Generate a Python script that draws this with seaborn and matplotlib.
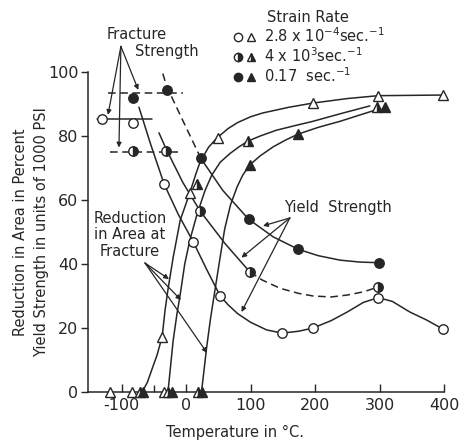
import matplotlib
matplotlib.use("Agg")
import matplotlib.pyplot as plt
import seaborn as sns
from matplotlib.lines import Line2D
from matplotlib.legend_handler import HandlerTuple

# ---------------- data ----------------
# Reduction in area curves (descending)
ra_open_T = [-73, -55, -34, -12, 11, 32, 53, 65, 80, 100, 125, 149, 175, 197, 225, 250, 275, 298, 320, 347, 373, 398]
ra_open_V = [89, 77.5, 65, 55.5, 47, 38.3, 30, 27.3, 24.5, 21.8, 19.4, 18.4, 19.0, 20, 22.3, 25, 28, 29.5, 28.3, 25, 22.5, 19.7]

ra_half_T = [-42, -31, -5, 22, 60, 99]
ra_half_V = [81, 76, 65.5, 56.5, 46.5, 37.5]
ra_half_dash_T = [99, 118, 146, 175, 197, 225, 250, 275, 298]
ra_half_dash_V = [37.5, 35, 32.4, 30.8, 30.0, 29.7, 30.3, 31.3, 32.8]

ra_fill_dash_T = [-36, -30, -3, 23]
ra_fill_dash_V = [99.5, 95.5, 84, 73]
ra_fill_T = [23, 57, 97, 135, 174, 205, 239, 270, 299]
ra_fill_V = [73, 63, 54, 48.5, 44.6, 42.6, 41.2, 40.6, 40.4]

# Yield strength curves (ascending)
ys_open_T = [-68, -60, -53, -45, -37, -32.5, -28, -20, -9, 6, 15, 22, 35, 48, 65, 80, 100, 119, 160, 197, 250, 298, 398]
ys_open_V = [0, 3, 7, 11.5, 17.3, 25.6, 32, 42, 53.7, 62.3, 68, 72, 76.5, 79.4, 82.3, 84.2, 86, 87.2, 89, 90.3, 91.7, 92.6, 92.8]

ys_half_T = [-28, -24, -20, -14, -9, -2, 6, 17, 29.5, 40, 53, 68, 82, 96, 115, 140, 170, 197, 240, 285]
ys_half_V = [0, 8, 16, 24.5, 30.5, 40, 47.5, 55.5, 63, 67.8, 71.8, 74.5, 76.6, 78.4, 80, 81.8, 83.3, 84.6, 87, 89.4]

ys_fill_T = [24, 28, 32, 38, 45, 52, 60, 69, 79, 88, 99, 115, 135, 155, 174, 205, 239, 270, 300]
ys_fill_V = [0, 7, 14, 23, 32, 41, 51, 58.5, 64, 67.8, 71, 73.8, 76.6, 78.8, 80.6, 82.7, 84.6, 86.6, 88.5]

# Fracture strength horizontal lines
fs_open_T, fs_open_V = [-138, -53], [85.2, 85.2]
fs_half_T, fs_half_V = [-118, -12], [75.1, 75.1]
fs_fill_T, fs_fill_V = [-121, -4.5], [93.5, 93.5]

# Markers
circ_open_T = [-130, -82, -34, 11, 53, 149, 197, 298, 398]
circ_open_V = [85.3, 84, 65, 47, 30, 18.4, 20, 29.5, 19.7]
circ_half_T = [-82, -31, 22, 99, 298]
circ_half_V = [75.3, 75.3, 56.5, 37.5, 32.8]
circ_fill_T = [-82, -30, 23, 97, 174, 299]
circ_fill_V = [92, 94.5, 73, 54, 44.6, 40.4]
tri_open_T = [-118, -84, -34, -37, 6, 49, 197, 298, 398]
tri_open_V = [0, 0, 0, 17.3, 62.3, 79.4, 90.3, 92.6, 92.8]
tri_half_T = [-71, -28, 19, 17, 96, 296]
tri_half_V = [0, 0, 0, 65, 78.4, 89]
tri_fill_T = [-66, -22, 24, 99, 174, 308]
tri_fill_V = [0, 0, 0, 71, 80.6, 89]

legend_labels = [r"2.8 x 10$^{-4}$sec.$^{-1}$", r"4 x 10$^{3}$sec.$^{-1}$", r"0.17  sec.$^{-1}$"]

x_ticks = [-100, 0, 100, 200, 300, 400]
y_ticks = [0, 20, 40, 60, 80, 100]

# ---------------- drawing ----------------
sns.set_theme(style="ticks")
plt.rcParams["font.family"] = ["DejaVu Sans"]
plt.rcParams["axes.unicode_minus"] = False

INK = "#262626"
LW = 1.1
DASH = (0, (5, 3))

fig = plt.figure(figsize=(4.6, 4.41), dpi=100)
fig.patch.set_facecolor("white")
ax = fig.add_axes([88 / 460, 49 / 441, 356 / 460, 320 / 441])
ax.set_facecolor("white")


def curve(T, V, ls="-"):
    sns.lineplot(x=T, y=V, sort=False, estimator=None, color=INK, lw=LW,
                 linestyle=ls, ax=ax, legend=False)


curve(ra_open_T, ra_open_V)
curve(ra_half_T, ra_half_V)
curve(ra_half_dash_T, ra_half_dash_V, DASH)
curve(ra_fill_dash_T, ra_fill_dash_V, DASH)
curve(ra_fill_T, ra_fill_V)
curve(ys_open_T, ys_open_V)
curve(ys_half_T, ys_half_V)
curve(ys_fill_T, ys_fill_V)
curve(fs_open_T, fs_open_V)
curve(fs_half_T, fs_half_V, DASH)
curve(fs_fill_T, fs_fill_V, DASH)

CMS, TMS = 6.8, 6.8
mk_common = dict(linestyle="none", mec=INK, mew=1.0, clip_on=False, zorder=5)
ax.plot(circ_open_T, circ_open_V, marker="o", ms=CMS, mfc="white", **mk_common)
ax.plot(circ_half_T, circ_half_V, marker="o", ms=CMS, fillstyle="right",
        mfc=INK, markerfacecoloralt="white", **mk_common)
ax.plot(circ_fill_T, circ_fill_V, marker="o", ms=CMS, mfc=INK, **mk_common)
ax.plot(tri_open_T, tri_open_V, marker="^", ms=TMS, mfc="white", **mk_common)
ax.plot(tri_half_T, tri_half_V, marker="^", ms=TMS, fillstyle="right",
        mfc=INK, markerfacecoloralt="white", **mk_common)
ax.plot(tri_fill_T, tri_fill_V, marker="^", ms=TMS, mfc=INK, **mk_common)

ax.set_xlim(-152, 400)
ax.set_ylim(0, 100)
ax.set_xticks(x_ticks)
ax.set_xticks([-50], minor=True)
ax.set_yticks(y_ticks)
ax.tick_params(axis="x", direction="in", length=6, width=1.0, colors=INK,
               labelsize=11.5, pad=4)
ax.tick_params(axis="x", which="minor", direction="in", length=5, width=1.0, colors=INK)
ax.tick_params(axis="y", direction="out", length=5, width=1.0, colors=INK,
               labelsize=11.5, pad=2)
for s in ["top", "right"]:
    ax.spines[s].set_visible(False)
for s in ["left", "bottom"]:
    ax.spines[s].set_color(INK)
    ax.spines[s].set_linewidth(1.1)

ax.set_xlabel("Temperature in °C.", fontsize=10.5, color=INK)
ax.xaxis.set_label_coords(0.413, -0.102)
ax.set_ylabel("Reduction in Area in Percent\nYield Strength in units of 1000 PSI",
              fontsize=10.5, color=INK, linespacing=1.45, va="center")
ax.yaxis.set_label_coords(-0.16, 0.5)

# annotations
arrow_kw = dict(arrowstyle="-|>", lw=0.9, color=INK, mutation_scale=7,
                shrinkA=0, shrinkB=0)


def arrows(apex, targets):
    for t in targets:
        ax.annotate("", xy=t, xytext=apex, xycoords="data", textcoords="data",
                    arrowprops=arrow_kw, annotation_clip=False)


ax.text(-76, 111.6, "Fracture", ha="center", va="center", fontsize=10.5, color=INK)
ax.text(-29.5, 106.3, "Strength", ha="center", va="center", fontsize=10.5, color=INK)
arrows((-101, 108), [(-121, 86.6), (-104, 76.4), (-74, 94.4)])

ax.text(-87, 49.1, "Reduction\nin Area at\nFracture", ha="center", va="center",
        fontsize=10.5, color=INK, linespacing=1.1)
arrows((-63.6, 40.3), [(-26.4, 35.3), (-7.8, 28.75), (32.6, 12.2)])

ax.text(235, 57.8, "Yield  Strength", ha="center", va="center", fontsize=10.5, color=INK)
arrows((161, 54.4), [(119.4, 51.9), (86, 42), (86, 25)])

# legend (strain rate)
def mk(marker, fs="full", fc="white"):
    return Line2D([], [], linestyle="none", marker=marker, ms=6, mec=INK, mew=1.0,
                  fillstyle=fs, mfc=fc, markerfacecoloralt="white")


handles = [
    (mk("o"), mk("^")),
    (mk("o", "right", INK), mk("^", "right", INK)),
    (mk("o", "full", INK), mk("^", "full", INK)),
]
leg = ax.legend(handles, legend_labels, handler_map={tuple: HandlerTuple(ndivide=None, pad=0.0)},
                title="Strain Rate", frameon=False, fontsize=10.5, title_fontsize=10.5,
                loc="upper left", bbox_to_anchor=(232 / 460, 1 - 10 / 441),
                bbox_transform=fig.transFigure, borderpad=0, borderaxespad=0,
                handlelength=1.7, handletextpad=0.5, labelspacing=0.1)
for t in leg.get_texts():
    t.set_color(INK)
leg.get_title().set_color(INK)

fig.savefig("out.png", dpi=100, facecolor="white")
